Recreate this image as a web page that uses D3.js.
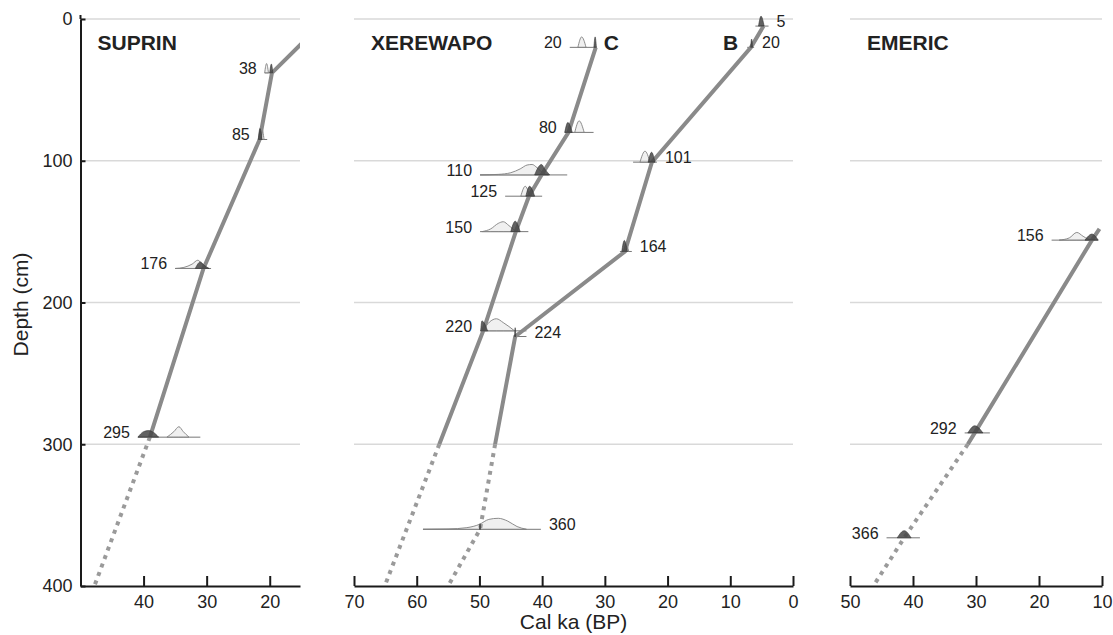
<!DOCTYPE html>
<html lang="en">
<head>
<meta charset="UTF-8">
<title>Age-depth models</title>
<script src="https://d3js.org/d3.v7.min.js"></script>
<style>
    body { margin: 0; background: #fff; font-family: "Liberation Sans", Arial, sans-serif; }
    .grid { stroke: #d9d9d9; stroke-width: 1.5; }
    .axis path, .axis line { stroke: #1a1a1a; stroke-width: 2; }
    .axis text { font-family: "Liberation Sans", Arial, sans-serif; font-size: 18px; fill: #222; }
    .model { fill: none; stroke: #8a8a8a; stroke-width: 4; }
    .extrap { fill: none; stroke: #9a9a9a; stroke-width: 4; stroke-dasharray: 4 5; }
    .base { stroke: #777; stroke-width: 1; }
    .light { fill: #e2e2e2; fill-opacity: 0.5; stroke: #808080; stroke-width: 0.9; }
    .dark { fill: #474747; fill-opacity: 0.85; stroke: #333; stroke-width: 0.6; }
    .date-label { font-size: 16px; fill: #222; }
    .core-title { font-size: 21px; font-weight: bold; fill: #222; }
    .axis-title { font-size: 21px; fill: #222; }
</style>
</head>
<body>
<div id="chart"></div>
<script>
    // tick values
    const depthTicks = [0, 100, 200, 300, 400];
    const suprinTicks = [40, 30, 20];
    const xerewapoTicks = [70, 60, 50, 40, 30, 20, 10, 0];
    const emericTicks = [50, 40, 30, 20, 10];

    // age-depth models: [depth cm, age ka]
    const suprinModel = [[0, 11.0], [38, 19.65], [85, 21.6], [176, 30.5], [295, 39.0]];
    const suprinExtrap = [[295, 39.0], [400, 47.8]];
    const coreCModel = [[20, 31.45], [80, 35.8], [110, 40.1], [125, 42.1], [150, 44.2], [220, 49.4], [300, 56.4]];
    const coreCExtrap = [[300, 56.4], [400, 65.1]];
    const coreBModel = [[5, 4.7], [20, 6.7], [101, 22.5], [164, 26.8], [224, 44.3], [300, 47.5]];
    const coreBExtrap = [[300, 47.5], [360, 49.9], [400, 55.0]];
    const emericModel = [[148, 10.4], [156, 11.6], [292, 30.2], [300, 31.3]];
    const emericExtrap = [[300, 31.3], [366, 41.4], [400, 46.3]];

    // dated samples: depth, age range of the base line, probability curves [age, rel. height]
    const suprinDates = [
        {depth: 38, range: [20.8, 19.4], light: [[20.8, 0], [20.5, 0.85], [20.2, 0]], dark: [[20.0, 0], [19.75, 0.8], [19.5, 0]]},
        {depth: 85, range: [21.9, 20.4], light: [[21.5, 0], [21.25, 1.0], [20.9, 0]], dark: [[21.8, 0], [21.55, 1.0], [21.2, 0]]},
        {depth: 176, range: [35.0, 29.3], light: [[35.0, 0], [33.6, 0.1], [32.3, 0.4], [31.4, 0.75], [30.8, 0.45], [30.2, 0.05], [29.8, 0]], dark: [[31.8, 0], [31.0, 0.6], [30.4, 0.3], [29.6, 0]]},
        {depth: 295, range: [40.9, 31.0], light: [[36.3, 0], [35.2, 0.5], [34.4, 0.95], [33.7, 0.5], [32.8, 0]], dark: [[40.9, 0], [40.0, 0.5], [39.2, 0.6], [38.6, 0.5], [37.6, 0]]}
    ];
    const coreCDates = [
        {depth: 20, range: [35.6, 31.3], light: [[34.3, 0], [33.7, 0.95], [33.0, 0]], dark: [[31.75, 0], [31.55, 0.95], [31.35, 0]]},
        {depth: 80, range: [36.4, 31.8], light: [[34.8, 0], [34.1, 1.05], [33.3, 0]], dark: [[36.4, 0], [35.9, 0.9], [35.2, 0]]},
        {depth: 110, range: [49.9, 36.0], light: [[49.9, 0], [47.0, 0.05], [45.0, 0.2], [43.5, 0.55], [42.4, 0.9], [41.6, 0.95], [40.8, 0.65], [39.8, 0.15], [39.0, 0]], dark: [[41.2, 0], [40.5, 0.8], [40.1, 0.95], [39.6, 0.55], [38.8, 0]]},
        {depth: 125, range: [45.9, 40.0], light: [[43.4, 0], [42.7, 0.9], [42.0, 0]], dark: [[42.6, 0], [42.0, 0.9], [41.2, 0]]},
        {depth: 150, range: [49.9, 42.2], light: [[49.6, 0], [48.2, 0.25], [47.0, 0.75], [46.2, 0.9], [45.3, 0.55], [44.3, 0.1], [43.6, 0]], dark: [[45.0, 0], [44.3, 0.95], [43.5, 0]]},
        {depth: 220, range: [49.9, 42.5], light: [[49.5, 0], [48.4, 0.8], [47.3, 1.1], [46.2, 0.75], [44.4, 0]], dark: [[49.8, 0], [49.6, 0.9], [48.7, 0]]}
    ];
    const coreBDates = [
        {depth: 5, range: [6.0, 3.9], dark: [[5.5, 0], [5.1, 0.9], [4.6, 0]]},
        {depth: 20, range: [7.3, 6.2], dark: [[6.75, 0], [6.6, 0.75], [6.45, 0]]},
        {depth: 101, range: [25.5, 21.7], light: [[24.4, 0], [23.6, 1.0], [22.8, 0]], dark: [[23.1, 0], [22.55, 0.9], [22.0, 0]]},
        {depth: 164, range: [27.6, 25.7], light: [[26.9, 0], [26.6, 0.7], [26.2, 0]], dark: [[27.3, 0], [26.9, 1.0], [26.4, 0]]},
        {depth: 224, range: [44.5, 42.5], dark: [[44.4, 0], [44.3, 0.8], [44.2, 0]]},
        {depth: 360, range: [59.0, 40.2], light: [[59.0, 0], [55.0, 0.03], [52.0, 0.15], [50.0, 0.45], [48.5, 0.9], [47.0, 1.0], [45.5, 0.75], [44.0, 0.25], [42.5, 0]], dark: [[50.0, 0], [49.9, 0.5], [49.8, 0]]}
    ];
    const emericDates = [
        {depth: 156, range: [18.0, 10.6], light: [[16.8, 0], [15.2, 0.2], [14.0, 0.7], [13.0, 0.35], [12.2, 0.1], [11.2, 0]], dark: [[12.7, 0], [11.6, 0.55], [10.6, 0]]},
        {depth: 292, range: [31.8, 27.8], dark: [[31.3, 0], [30.2, 0.65], [28.9, 0]]},
        {depth: 366, range: [44.2, 38.9], dark: [[42.5, 0], [41.4, 0.65], [40.3, 0]]}
    ];

    const width = 1113, height = 635;
    const svg = d3.select("#chart").append("svg")
        .attr("width", width)
        .attr("height", height);

    // shared depth scale
    const y = d3.scaleLinear().domain([0, 400]).range([19, 586]);
    const h = d3.scaleLinear().domain([0, 1]).range([0, 11]);

    const xSuprin = d3.scaleLinear().domain([50, 15.2]).range([80.5, 300]);
    const xXerewapo = d3.scaleLinear().domain([70, 0]).range([354, 793]);
    const xEmeric = d3.scaleLinear().domain([50, 10]).range([850, 1102]);

    const line = x => d3.line().x(d => x(d[1])).y(d => y(d[0]));

    function panel(id, x, ticks, title) {
        const g = svg.append("g");
        const [x0, x1] = x.range();

        // gridlines
        g.selectAll(".grid").data(depthTicks.slice(0, -1)).join("line")
            .attr("class", "grid")
            .attr("x1", x0).attr("x2", x1)
            .attr("y1", d => y(d)).attr("y2", d => y(d));

        // bottom axis, ticks pointing up
        g.append("g")
            .attr("class", "axis")
            .attr("transform", `translate(0,${y(400)})`)
            .call(d3.axisBottom(x).tickValues(ticks).tickSizeInner(-10).tickSizeOuter(0).tickPadding(9));

        g.append("text")
            .attr("class", "core-title")
            .attr("x", x0 + 17)
            .attr("y", 50)
            .text(title);

        g.append("clipPath").attr("id", id)
            .append("rect")
            .attr("x", x0).attr("y", 0)
            .attr("width", x1 - x0).attr("height", y(400));

        return {
            g: g,
            light: g.append("g"),
            lines: g.append("g").attr("clip-path", `url(#${id})`),
            dark: g.append("g"),
            labels: g.append("g")
        };
    }

    function drawCore(p, x, model, extrap, dates, side) {
        p.lines.append("path").datum(model).attr("class", "model").attr("d", line(x));
        p.lines.append("path").datum(extrap).attr("class", "extrap").attr("d", line(x));

        dates.forEach(d => {
            const yb = y(d.depth);
            const area = d3.area()
                .x(q => x(q[0]))
                .y0(yb)
                .y1(q => yb - h(q[1]))
                .curve(d3.curveMonotoneX);

            p.light.append("line")
                .attr("class", "base")
                .attr("x1", x(d.range[0])).attr("x2", x(d.range[1]))
                .attr("y1", yb).attr("y2", yb);
            if (d.light) p.light.append("path").attr("class", "light").attr("d", area(d.light));
            if (d.dark) p.dark.append("path").attr("class", "dark").attr("d", area(d.dark));

            p.labels.append("text")
                .attr("class", "date-label")
                .attr("x", side === "left" ? x(d.range[0]) - 8 : x(d.range[1]) + 8)
                .attr("y", yb + 1)
                .attr("text-anchor", side === "left" ? "end" : "start")
                .text(d.depth);
        });
    }

    // SUPRIN
    const pS = panel("clip-suprin", xSuprin, suprinTicks, "SUPRIN");
    drawCore(pS, xSuprin, suprinModel, suprinExtrap, suprinDates, "left");

    // XEREWAPO, cores C and B
    const pX = panel("clip-xerewapo", xXerewapo, xerewapoTicks, "XEREWAPO");
    drawCore(pX, xXerewapo, coreCModel, coreCExtrap, coreCDates, "left");
    drawCore(pX, xXerewapo, coreBModel, coreBExtrap, coreBDates, "right");
    pX.labels.append("text")
        .attr("class", "core-title")
        .attr("x", xXerewapo(coreCDates[0].range[1]) + 7)
        .attr("y", 50)
        .text("C");
    pX.labels.append("text")
        .attr("class", "core-title")
        .attr("x", xXerewapo(coreBDates[1].range[0]) - 9)
        .attr("y", 50)
        .attr("text-anchor", "end")
        .text("B");

    // EMERIC
    const pE = panel("clip-emeric", xEmeric, emericTicks, "EMERIC");
    drawCore(pE, xEmeric, emericModel, emericExtrap, emericDates, "left");

    // depth axis, ticks pointing inward
    const yAxis = svg.append("g")
        .attr("class", "axis")
        .attr("transform", `translate(${xSuprin.range()[0]},0)`)
        .call(d3.axisLeft(y).tickValues(depthTicks).tickSizeInner(-5).tickSizeOuter(0).tickPadding(8));
    yAxis.append("line")
        .attr("x1", 0).attr("x2", 0)
        .attr("y1", y(0) - 4).attr("y2", y(0));

    svg.append("text")
        .attr("class", "axis-title")
        .attr("transform", `translate(28,${(y(0) + y(400)) / 2 + 2}) rotate(-90)`)
        .attr("text-anchor", "middle")
        .text("Depth (cm)");

    svg.append("text")
        .attr("class", "axis-title")
        .attr("x", d3.mean(xXerewapo.range()))
        .attr("y", 629)
        .attr("text-anchor", "middle")
        .text("Cal ka (BP)");
</script>
</body>
</html>
